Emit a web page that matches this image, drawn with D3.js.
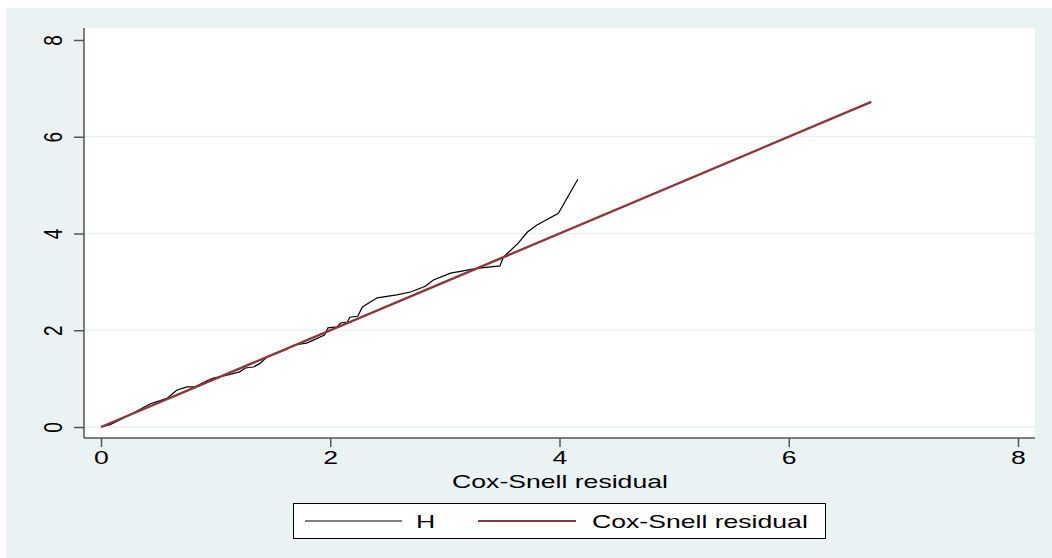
<!DOCTYPE html>
<html>
<head>
<meta charset="utf-8">
<script src="https://cdn.jsdelivr.net/npm/d3@7"></script>
<style>
  body { margin: 0; background: #fff; }
  text { font-family: "Liberation Sans", Arial, sans-serif; fill: #000; }
</style>
</head>
<body>
<script>
// Nelson-Aalen cumulative hazard H against Cox-Snell residual
var hX = [0, 0.08, 0.25, 0.43, 0.51, 0.58, 0.66, 0.75, 0.82, 0.92, 0.98, 1.1, 1.21, 1.26, 1.33,
  1.39, 1.45, 1.54, 1.62, 1.68, 1.8, 1.95, 1.98, 2.06, 2.09, 2.15, 2.17, 2.24, 2.28, 2.41,
  2.58, 2.7, 2.83, 2.9, 3.05, 3.28, 3.48, 3.51, 3.64, 3.72, 3.8, 3.99, 4.16];
var hY = [0, 0.05, 0.25, 0.48, 0.54, 0.6, 0.76, 0.83, 0.83, 0.95, 1.01, 1.07, 1.14, 1.22, 1.24,
  1.32, 1.45, 1.53, 1.61, 1.69, 1.74, 1.9, 2.05, 2.07, 2.15, 2.17, 2.27, 2.29, 2.48, 2.67,
  2.73, 2.79, 2.91, 3.04, 3.18, 3.28, 3.33, 3.51, 3.8, 4.03, 4.17, 4.42, 5.12];
// reference line: residual against itself
var csr = [0, 6.72];
var xTicks = [0, 2, 4, 6, 8];
var yTicks = [0, 2, 4, 6, 8];
var gridTicks = [0, 2, 4, 6];

var W = 1052, H = 558;
var stretch = "scale(1.4,1)"; // the picture's text is drawn wide

var x = d3.scaleLinear().domain([0, 8]).range([101, 1018]);
var y = d3.scaleLinear().domain([0, 8]).range([427, 40]);

var svg = d3.select("body").append("svg")
  .attr("width", W)
  .attr("height", H);

// graph region
svg.append("rect")
  .attr("x", 6).attr("y", 8)
  .attr("width", W - 6).attr("height", H - 8)
  .attr("fill", "#eaf2f3");

// plot region
svg.append("rect")
  .attr("x", 84).attr("y", 28)
  .attr("width", 1035 - 84).attr("height", 438 - 28)
  .attr("fill", "#fff");

svg.append("g").selectAll("line")
  .data(gridTicks)
  .enter().append("line")
  .attr("x1", 84).attr("x2", 1035)
  .attr("y1", function(d) { return y(d); })
  .attr("y2", function(d) { return y(d); })
  .attr("stroke", "#eaf2f3")
  .attr("stroke-width", 1.5);

var hData = hX.map(function(v, i) { return [v, hY[i]]; });
var csrData = csr.map(function(v) { return [v, v]; });

var line = d3.line()
  .x(function(d) { return x(d[0]); })
  .y(function(d) { return y(d[1]); });

svg.append("path")
  .datum(hData)
  .attr("d", line)
  .attr("fill", "none")
  .attr("stroke", "#000")
  .attr("stroke-width", 1.2);

svg.append("path")
  .datum(csrData)
  .attr("d", line)
  .attr("fill", "none")
  .attr("stroke", "#90353b")
  .attr("stroke-width", 2.4);

// y axis
var yAxis = svg.append("g")
  .attr("transform", "translate(84,0)")
  .call(d3.axisLeft(y).tickValues(yTicks).tickSize(10).tickSizeOuter(0).tickFormat(d3.format("d")));
yAxis.select(".domain").attr("d", "M0,28V438").attr("stroke", "#555").attr("stroke-width", 1.5);
yAxis.selectAll(".tick line").attr("stroke", "#555").attr("stroke-width", 1.5);
yAxis.selectAll(".tick text")
  .attr("x", 0).attr("y", 0).attr("dy", 0)
  .attr("transform", "translate(-22,0) " + stretch + " rotate(-90)")
  .attr("text-anchor", "middle")
  .attr("font-size", 19)
  .attr("font-family", "Liberation Sans, Arial, sans-serif")
  .attr("fill", "#000");

// x axis
var xAxis = svg.append("g")
  .attr("transform", "translate(0,438)")
  .call(d3.axisBottom(x).tickValues(xTicks).tickSize(9).tickSizeOuter(0).tickFormat(d3.format("d")));
xAxis.select(".domain").attr("d", "M84,0H1035").attr("stroke", "#555").attr("stroke-width", 1.5);
xAxis.selectAll(".tick line").attr("stroke", "#555").attr("stroke-width", 1.5);
xAxis.selectAll(".tick text")
  .attr("y", 13).attr("dy", "0.71em")
  .attr("transform", stretch)
  .attr("font-size", 19)
  .attr("font-family", "Liberation Sans, Arial, sans-serif")
  .attr("fill", "#000");

svg.append("text")
  .attr("transform", "translate(560,488) " + stretch)
  .attr("text-anchor", "middle")
  .attr("font-size", 19)
  .text("Cox-Snell residual");

// legend
var leg = svg.append("g");
leg.append("rect")
  .attr("x", 293.5).attr("y", 503.5)
  .attr("width", 532).attr("height", 35)
  .attr("fill", "#fff")
  .attr("stroke", "#000")
  .attr("stroke-width", 1);
var items = [
  { label: "H", color: "#000", w: 1.2, x1: 305, x2: 402, tx: 416 },
  { label: "Cox-Snell residual", color: "#90353b", w: 2, x1: 478, x2: 576, tx: 592 }
];
items.forEach(function(it) {
  leg.append("line")
    .attr("x1", it.x1).attr("x2", it.x2)
    .attr("y1", 521).attr("y2", 521)
    .attr("stroke", it.color)
    .attr("stroke-width", it.w);
  leg.append("text")
    .attr("transform", "translate(" + it.tx + ",528) " + stretch)
    .attr("font-size", 19)
    .text(it.label);
});
</script>
</body>
</html>
